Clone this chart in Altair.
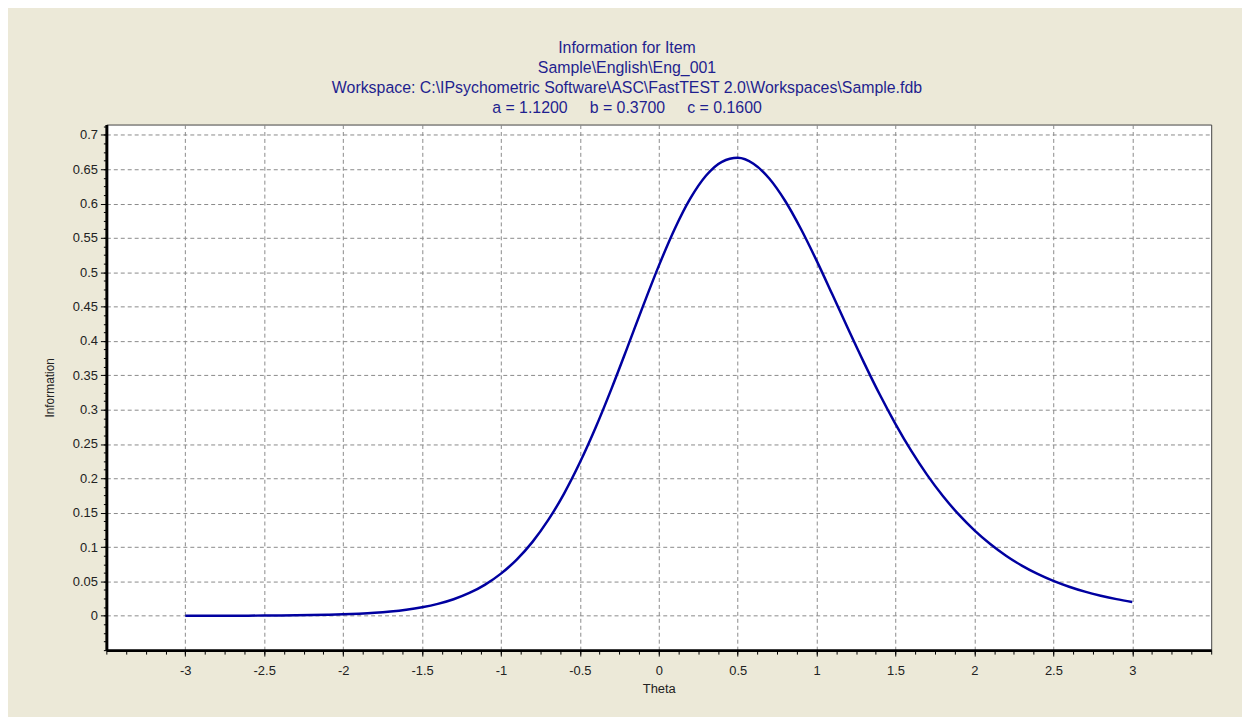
import altair as alt
import pandas as pd

# Theta values and item information
theta = [-3.0, -2.9, -2.8, -2.7, -2.6, -2.5, -2.4, -2.3, -2.2, -2.1,
         -2.0, -1.9, -1.8, -1.7, -1.6, -1.5, -1.4, -1.3, -1.2, -1.1,
         -1.0, -0.9, -0.8, -0.7, -0.6, -0.5, -0.4, -0.3, -0.2, -0.1,
         0.0, 0.1, 0.2, 0.3, 0.4, 0.5, 0.6, 0.7, 0.8, 0.9,
         1.0, 1.1, 1.2, 1.3, 1.4, 1.5, 1.6, 1.7, 1.8, 1.9,
         2.0, 2.1, 2.2, 2.3, 2.4, 2.5, 2.6, 2.7, 2.8, 2.9, 3.0]
information = [0.0001, 0.0001, 0.0001, 0.0002, 0.0002, 0.0003, 0.0005, 0.0007, 0.0010, 0.0015,
               0.0021, 0.0030, 0.0043, 0.0062, 0.0088, 0.0124, 0.0173, 0.0241, 0.0332, 0.0454,
               0.0614, 0.0818, 0.1076, 0.1395, 0.1779, 0.2230, 0.2740, 0.3303, 0.3900, 0.4507,
               0.5093, 0.5626, 0.6074, 0.6408, 0.6608, 0.6665, 0.6580, 0.6365, 0.6041, 0.5633,
               0.5169, 0.4675, 0.4174, 0.3685, 0.3220, 0.2790, 0.2399, 0.2051, 0.1743, 0.1475,
               0.1243, 0.1044, 0.0875, 0.0731, 0.0610, 0.0508, 0.0423, 0.0351, 0.0292, 0.0242, 0.0201]

x_major = [-3, -2.5, -2, -1.5, -1, -0.5, 0, 0.5, 1, 1.5, 2, 2.5, 3]
y_major = [0, 0.05, 0.1, 0.15, 0.2, 0.25, 0.3, 0.35, 0.4, 0.45, 0.5, 0.55, 0.6, 0.65, 0.7]
x_minor = [round(-3.5 + 0.125 * i, 4) for i in range(57)]
y_minor = [round(-0.05 + 0.0125 * i, 5) for i in range(62)]

title_lines = [
    "Information for Item",
    "Sample\\English\\Eng_001",
    "Workspace: C:\\IPsychometric Software\\ASC\\FastTEST 2.0\\Workspaces\\Sample.fdb",
    "a = 1.1200\u00a0\u00a0\u00a0\u00a0\u00a0b = 0.3700\u00a0\u00a0\u00a0\u00a0\u00a0c = 0.1600",
]

df = pd.DataFrame({"theta": theta, "info": information})

FONT = "Liberation Sans"
XDOM = [-3.5, 3.5]
YDOM = [-0.05, 0.715]

line = alt.Chart(df).mark_line(color="#0000A0", strokeWidth=2.5, interpolate="monotone").encode(
    x=alt.X("theta:Q", scale=alt.Scale(domain=XDOM, nice=False, zero=False),
            axis=alt.Axis(orient="bottom", values=x_major, labelExpr="'' + datum.value",
                          title="Theta", tickSize=6, tickColor="#000", domainColor="#000",
                          domainWidth=3, grid=True, gridColor="#8a8a8a", gridDash=[4, 3],
                          labelFont=FONT, labelFontSize=13, labelColor="#222", labelPadding=9,
                          titleFont=FONT, titleFontSize=13, titleFontWeight="normal",
                          titleColor="#222", titlePadding=5)),
    y=alt.Y("info:Q", scale=alt.Scale(domain=YDOM, nice=False, zero=False),
            axis=alt.Axis(orient="left", values=y_major, labelExpr="'' + datum.value",
                          title="Information", tickSize=6, tickColor="#000", domainColor="#000",
                          domainWidth=3, grid=True, gridColor="#8a8a8a", gridDash=[4, 3],
                          labelFont=FONT, labelFontSize=13, labelColor="#222", labelPadding=3,
                          titleFont=FONT, titleFontSize=12, titleFontWeight="normal",
                          titleColor="#222", titleAngle=-90, titleX=-57, titleY=264.5,
                          titleAlign="center", titleBaseline="middle")),
)

minor = alt.Chart(df).mark_line(opacity=0).encode(
    x=alt.X("theta:Q", scale=alt.Scale(domain=XDOM, nice=False, zero=False),
            axis=alt.Axis(orient="bottom", values=x_minor, labels=False, title=None,
                          tickSize=4, tickColor="#000", domain=False, grid=False)),
    y=alt.Y("info:Q", scale=alt.Scale(domain=YDOM, nice=False, zero=False),
            axis=alt.Axis(orient="left", values=y_minor, labels=False, title=None,
                          tickSize=3, tickColor="#000", domain=False, grid=False)),
)

chart = alt.layer(minor, line).resolve_axis(x="independent", y="independent").properties(
    width=1112,
    height=529,
    autosize=alt.AutoSizeParams(type="none"),
    padding={"left": 99, "top": 115, "right": 31, "bottom": 65},
    background="#ECE9D8",
    title=alt.TitleParams(text=title_lines, anchor="middle", dx=-32, offset=9,
                          font=FONT, fontSize=16, fontWeight="normal", color="#1F1F8F",
                          lineHeight=20),
).configure_view(fill="white", stroke="#444", strokeWidth=1)

chart.save("out.html", embed_options={"renderer": "svg", "actions": False})
